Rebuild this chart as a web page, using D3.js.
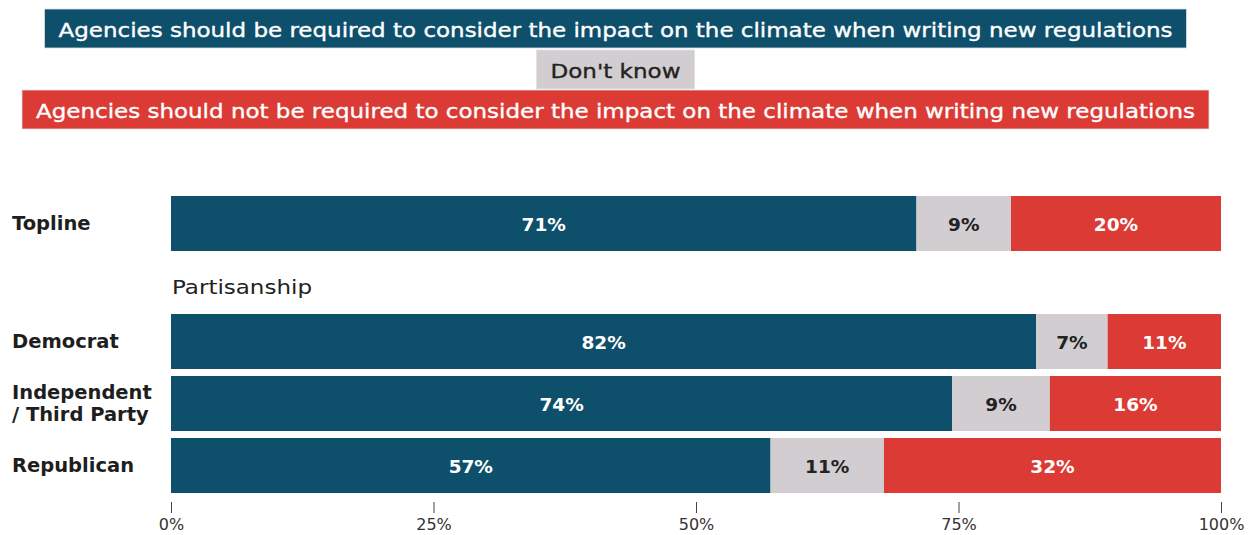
<!DOCTYPE html>
<html>
<head>
<meta charset="utf-8">
<script src="https://cdn.jsdelivr.net/npm/d3@7"></script>
<style>
  html, body { margin: 0; padding: 0; background: #fff; }
  svg { display: block; font-family: "DejaVu Sans", "Open Sans", sans-serif; }
</style>
</head>
<body>
<svg id="chart" width="1259" height="535"></svg>
<script>
// ---- data ----
const seriesNames = [
  "Agencies should be required to consider the impact on the climate when writing new regulations",
  "Don't know",
  "Agencies should not be required to consider the impact on the climate when writing new regulations"
];
const seriesKeys = ["required", "dontknow", "notrequired"];
const categories = ["Topline", "Democrat", "Independent / Third Party", "Republican"];
const requiredVals = [71, 82.4, 74.4, 57.1];
const dontKnowVals = [9, 6.8, 9.3, 10.8];
const notRequiredVals = [20, 10.8, 16.3, 32.1];
const tickValues = [0, 25, 50, 75, 100];
const tickLabels = ["0%", "25%", "50%", "75%", "100%"];
const groupHeader = "Partisanship";

// ---- style ----
const colors = { required: "#0e4f6b", dontknow: "#d1cdd0", notrequired: "#db3a35" };
const textColors = { required: "#ffffff", dontknow: "#222222", notrequired: "#ffffff" };

const svg = d3.select("#chart");
const rows = categories.map((c, i) => ({
  category: c,
  required: requiredVals[i],
  dontknow: dontKnowVals[i],
  notrequired: notRequiredVals[i]
}));

const x = d3.scaleLinear().domain([0, 100]).range([171, 1221]);
const yTop = d3.scaleBand().domain(["Topline"]).range([196, 251]).padding(0);
const yGroup = d3.scaleBand().domain(categories.slice(1)).range([314, 493])
  .paddingInner(7 / 62).paddingOuter(0);
const yPos = c => c === "Topline" ? yTop(c) : yGroup(c);
const bh = yGroup.bandwidth();

const stacked = d3.stack().keys(seriesKeys)(rows);

// ---- legend ----
const legendY = [9, 50, 90];
const legendTextW = [1114, 130, 1159];
const legendH = 39;
const cx = 615.5;
seriesNames.forEach((name, i) => {
  const g = svg.append("g");
  const t = g.append("text")
    .attr("x", cx)
    .attr("y", legendY[i] + legendH / 2 + 1)
    .attr("text-anchor", "middle")
    .attr("dominant-baseline", "central")
    .attr("font-size", 20)
    .attr("font-weight", 400)
    .attr("fill", textColors[seriesKeys[i]])
    .attr("stroke", textColors[seriesKeys[i]])
    .attr("stroke-width", 0.35)
    .attr("textLength", legendTextW[i])
    .attr("lengthAdjust", "spacingAndGlyphs")
    .text(name);
  const w = legendTextW[i];
  g.insert("rect", "text")
    .attr("x", cx - w / 2 - 14)
    .attr("y", legendY[i])
    .attr("width", w + 28)
    .attr("height", legendH)
    .attr("fill", colors[seriesKeys[i]])
    .attr("stroke", "#e2e2e2")
    .attr("stroke-width", 0.8);
});

// ---- bars ----
stacked.forEach(layer => {
  const key = layer.key;
  const g = svg.append("g");
  g.selectAll("rect").data(layer).join("rect")
    .attr("x", d => x(d[0]))
    .attr("y", d => yPos(d.data.category))
    .attr("width", d => x(d[1]) - x(d[0]))
    .attr("height", bh)
    .attr("fill", colors[key]);
  g.selectAll("text").data(layer).join("text")
    .attr("x", d => (x(d[0]) + x(d[1])) / 2)
    .attr("y", d => yPos(d.data.category) + bh / 2 + 1)
    .attr("text-anchor", "middle")
    .attr("dominant-baseline", "central")
    .attr("font-size", 18.5)
    .attr("font-weight", 700)
    .attr("fill", textColors[key])
    .text(d => Math.round(d[1] - d[0]) + "%");
});

// ---- category labels ----
categories.forEach(c => {
  const cy = yPos(c) + bh / 2;
  const lines = c === "Independent / Third Party" ? ["Independent", "/ Third Party"] : [c];
  const t = svg.append("text")
    .attr("font-size", 19.5)
    .attr("font-weight", 700)
    .attr("fill", "#1e1e1e");
  lines.forEach((ln, j) => {
    t.append("tspan")
      .attr("x", 12)
      .attr("y", cy + (j - (lines.length - 1) / 2) * 22)
      .attr("dominant-baseline", "central")
      .text(ln);
  });
});

// group header
svg.append("text")
  .attr("x", 172)
  .attr("y", 287)
  .attr("dominant-baseline", "central")
  .attr("font-size", 19.5)
  .attr("font-weight", 400)
  .attr("fill", "#222")
  .attr("textLength", 140)
  .attr("lengthAdjust", "spacingAndGlyphs")
  .text(groupHeader);

// ---- axis ----
const axis = d3.axisBottom(x)
  .tickValues(tickValues)
  .tickFormat((d, i) => tickLabels[i])
  .tickSize(11)
  .tickPadding(6);
const ax = svg.append("g").attr("transform", "translate(0,502)").call(axis);
ax.select(".domain").remove();
ax.selectAll(".tick line").attr("stroke", "#444").attr("stroke-width", 1);
ax.selectAll(".tick text")
  .attr("font-size", 16)
  .attr("font-family", "\"DejaVu Sans\", sans-serif")
  .attr("font-weight", 400)
  .attr("fill", "#333");
</script>
</body>
</html>
